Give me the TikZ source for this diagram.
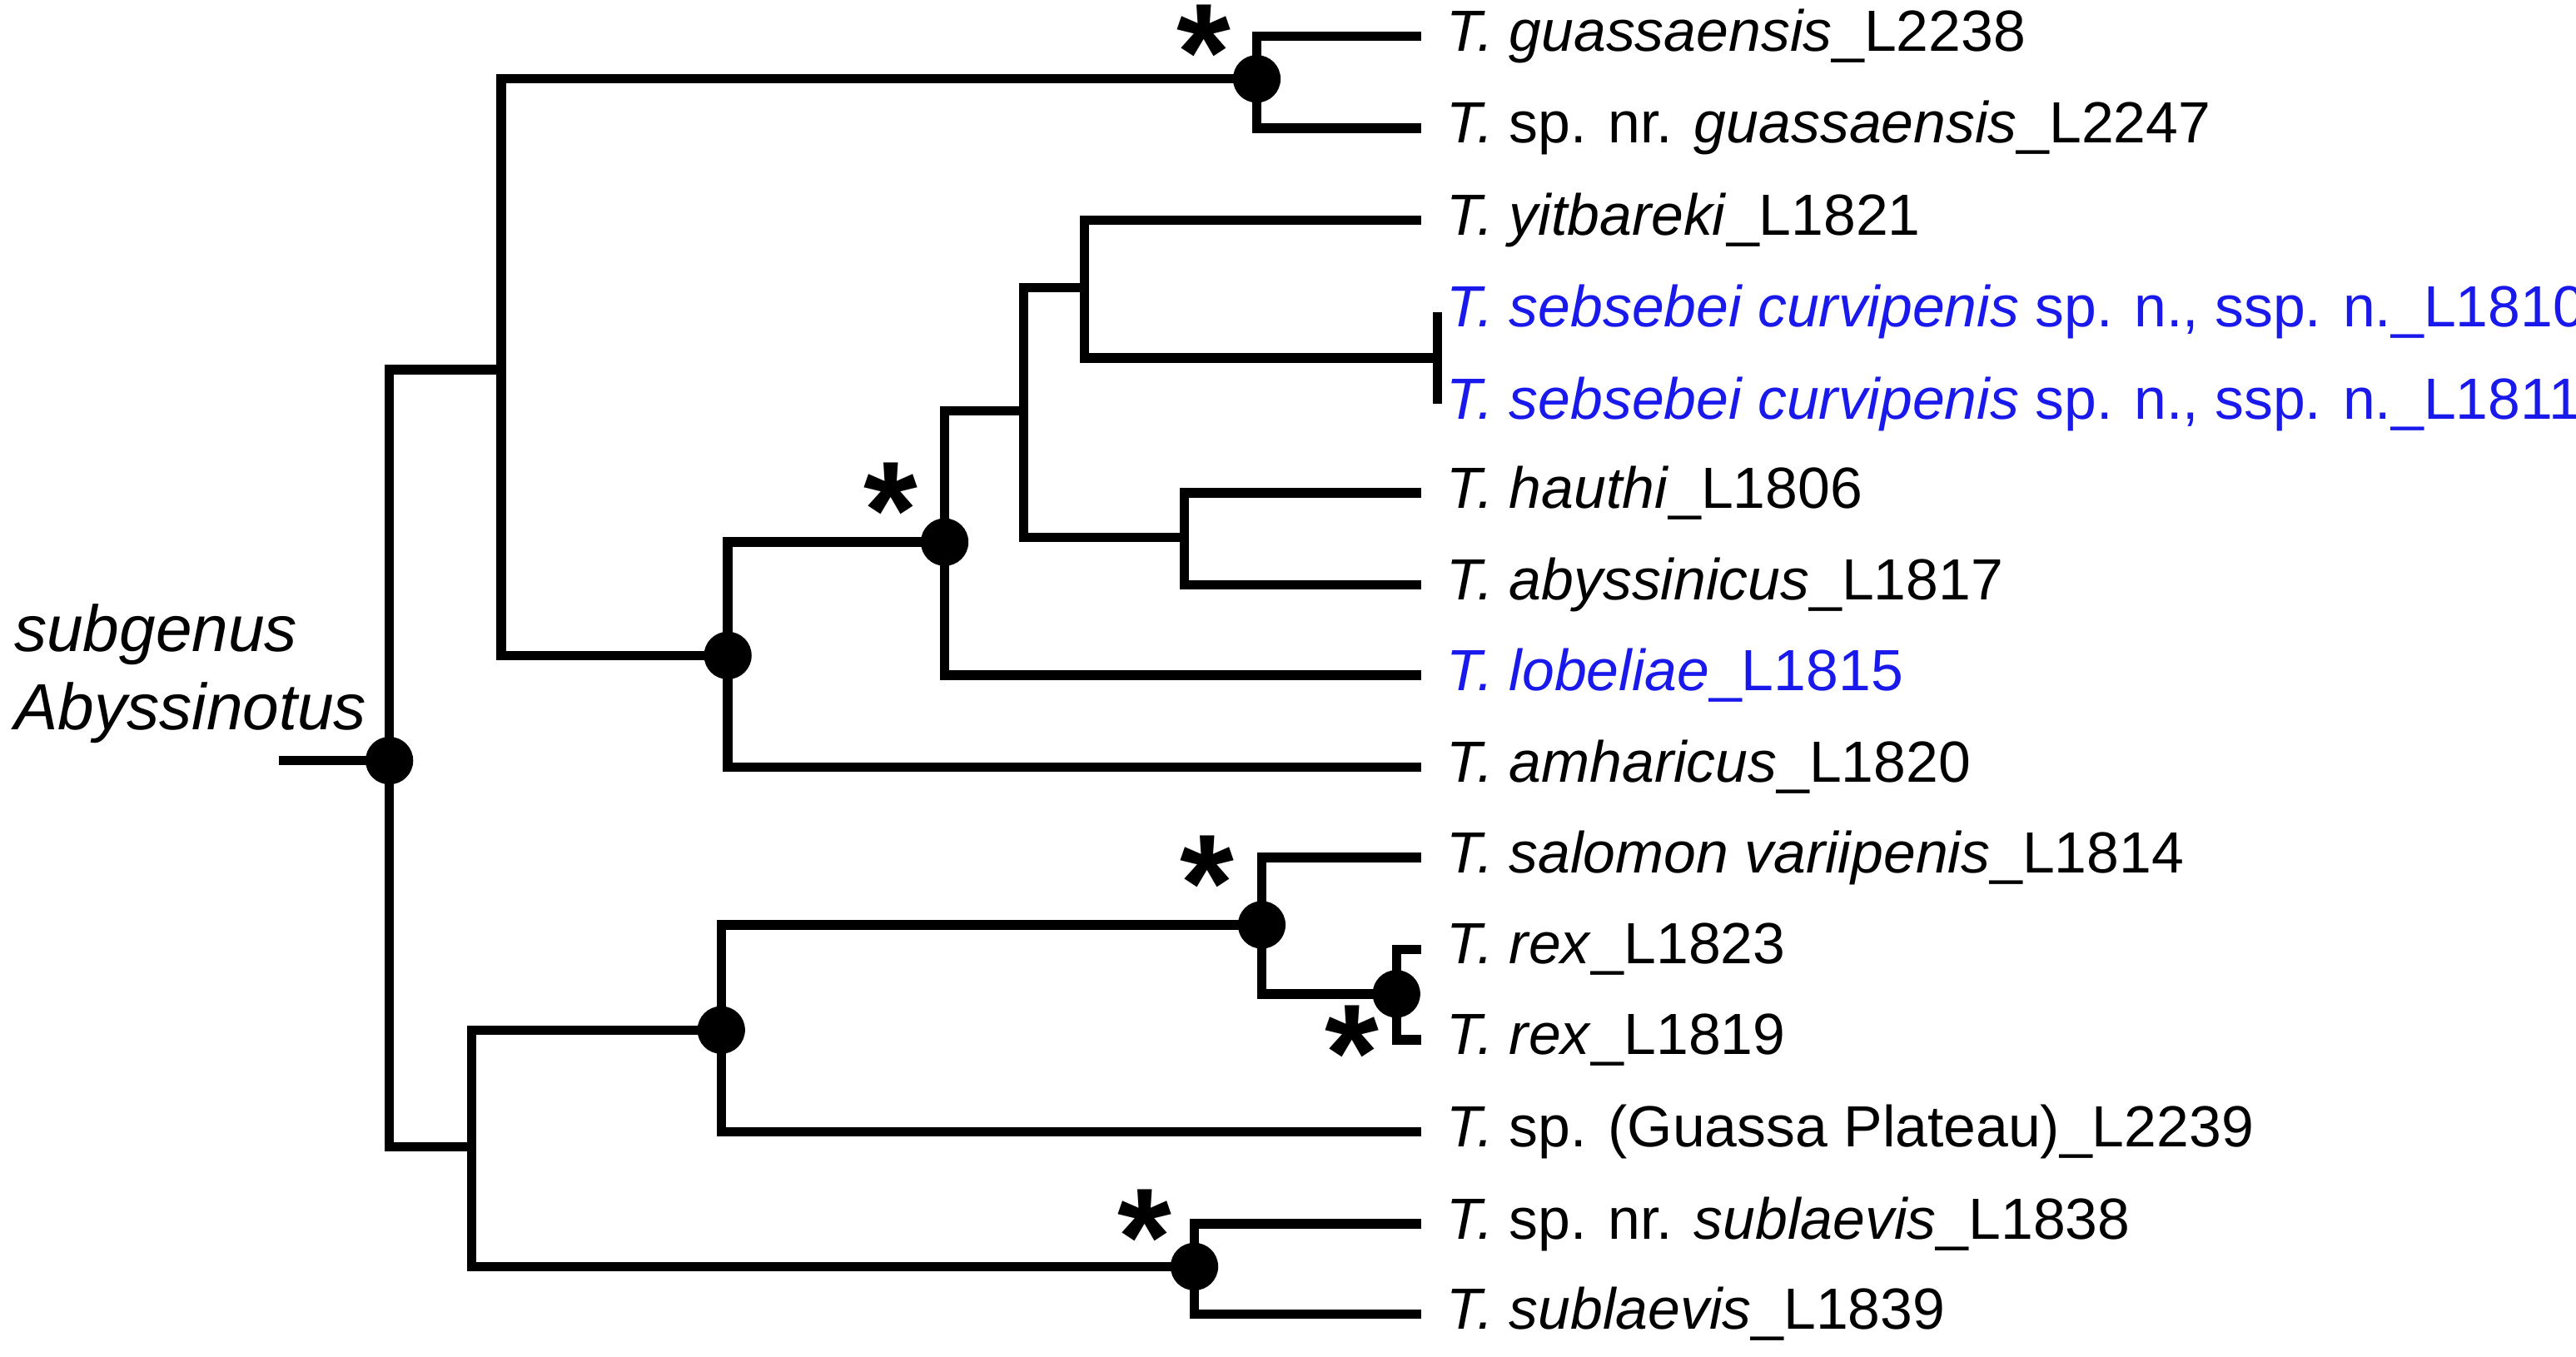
\documentclass[tikz,border=0pt]{standalone}
\usepackage{fontspec}
\setmainfont{Liberation Sans}
\definecolor{tblue}{RGB}{25,25,235}
\begin{document}
\begin{tikzpicture}[x=0.01cm,y=-0.01cm,
  br/.style={line width=0.058cm,line cap=butt},
  dot/.style={circle,fill=black,inner sep=0pt,minimum size=0.29cm},
  lab/.style={anchor=west,inner sep=0pt,font=\fontsize{10.05}{12}\selectfont},
  star/.style={font=\fontsize{24}{24}\selectfont\bfseries,inner sep=0pt}]
\useasboundingbox (0,0) rectangle (1568,826);
% internal nodes
\coordinate (r0) at (170,463);
\coordinate (root) at (237,463);
\coordinate (A) at (305,225);
\coordinate (Gs) at (765,48);
\coordinate (B) at (443,399);
\coordinate (C) at (575,330);
\coordinate (D) at (623,250);
\coordinate (E) at (660,175);
\coordinate (Bar) at (875,218);
\coordinate (F) at (721,327);
\coordinate (L) at (287,698);
\coordinate (G) at (439,627);
\coordinate (H) at (768,563);
\coordinate (I) at (850,605);
\coordinate (J) at (727,771);
% tips
\foreach \n/\y in {t1/22,t2/78,t3/134,t4/190,t5/246,t6/300,t7/356,t8/411,t9/467,t10/522,t11/578,t12/633,t13/689,t14/745,t15/800}
  \coordinate (\n) at (865,\y);
\coordinate (t4b) at (875,190);
\coordinate (t5b) at (875,246);
% branches
\draw[br] (r0) -- (root);
\draw[br] (A) -| (root) |- (L);
\draw[br] (Gs) -| (A) |- (B);
\draw[br] (t1) -| (Gs) |- (t2);
\draw[br] (C) -| (B) |- (t9);
\draw[br] (D) -| (C) |- (t8);
\draw[br] (E) -| (D) |- (F);
\draw[br] (t3) -| (E) |- (Bar);
\draw[br] (t4b) -- (t5b);
\draw[br] (t6) -| (F) |- (t7);
\draw[br] (G) -| (L) |- (J);
\draw[br] (H) -| (G) |- (t13);
\draw[br] (t10) -| (H) |- (I);
\draw[br] (t11) -| (I) |- (t12);
\draw[br] (t14) -| (J) |- (t15);
% dots
\foreach \c in {root,Gs,B,C,G,H,I,J} \node[dot] (d\c) at (\c) {};
% stars
\node[star] (s1) at (733,32) {*};
\node[star] (s2) at (542,311) {*};
\node[star] (s3) at (735,538) {*};
\node[star] (s4) at (823,641) {*};
\node[star] (s5) at (697,753) {*};
% labels
\node[lab] (l1) at (880,22) {\textit{T. guassaensis}\_L2238};
\node[lab] (l2) at (880,78) {\textit{T.} sp. nr. \textit{guassaensis}\_L2247};
\node[lab] (l3) at (880,134) {\textit{T. yitbareki}\_L1821};
\node[lab,text=tblue] (l4) at (880,190) {\textit{T. sebsebei curvipenis} sp. n., ssp. n.\_L1810};
\node[lab,text=tblue] (l5) at (880,246) {\textit{T. sebsebei curvipenis} sp. n., ssp. n.\_L1811};
\node[lab] (l6) at (880,300) {\textit{T. hauthi}\_L1806};
\node[lab] (l7) at (880,356) {\textit{T. abyssinicus}\_L1817};
\node[lab,text=tblue] (l8) at (880,411) {\textit{T. lobeliae}\_L1815};
\node[lab] (l9) at (880,467) {\textit{T. amharicus}\_L1820};
\node[lab] (l10) at (880,522) {\textit{T. salomon variipenis}\_L1814};
\node[lab] (l11) at (880,578) {\textit{T. rex}\_L1823};
\node[lab] (l12) at (880,633) {\textit{T. rex}\_L1819};
\node[lab] (l13) at (880,689) {\textit{T.} sp. (Guassa Plateau)\_L2239};
\node[lab] (l14) at (880,745) {\textit{T.} sp. nr. \textit{sublaevis}\_L1838};
\node[lab] (l15) at (880,800) {\textit{T. sublaevis}\_L1839};
\node[lab,font=\fontsize{11.3}{13.5}\selectfont\itshape,align=left] (sub) at (8,410) {subgenus\\Abyssinotus};
\end{tikzpicture}
\end{document}
